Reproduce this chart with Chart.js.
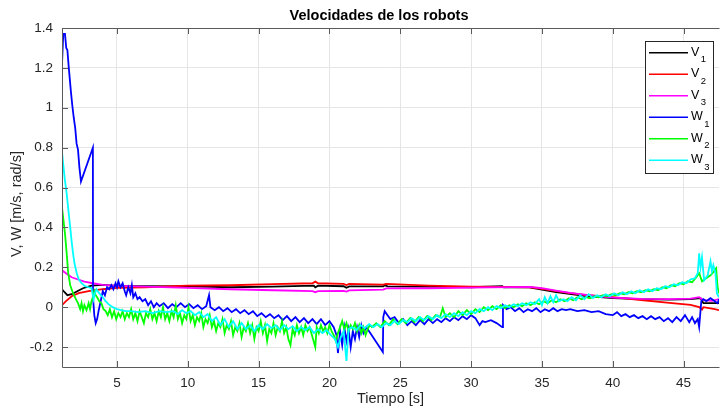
<!DOCTYPE html>
<html lang="es">
<head>
<meta charset="UTF-8">
<title>Velocidades de los robots</title>
<script src="https://cdn.jsdelivr.net/npm/chart.js@4.4.1/dist/chart.umd.min.js"></script>
<style>
  body { margin: 0; background: #fff; }
  canvas { display: block; }
</style>
</head>
<body>
<canvas id="chart" width="720" height="408"></canvas>
<script>
// series, [tiempo, valor]
const v1 = [[1.12,0.09],[1.3,0.075],[1.5,0.06],[1.8,0.065],[2.2,0.08],[2.6,0.095],[3.2,0.108],[4,0.112],[5,0.107],[7,0.106],[10,0.104],[13,0.1],[16,0.103],[18.9,0.108],[19,0.1],[19.2,0.108],[21,0.105],[21.2,0.097],[21.4,0.104],[23.8,0.104],[23.9,0.11],[24.1,0.104],[28,0.102],[30,0.1],[32.2,0.106],[32.3,0.1],[34,0.1],[36,0.075],[38,0.057],[40,0.046],[42,0.04],[44,0.038],[45.5,0.04],[46.2,0.045],[46.4,0.02],[47.5,0.02]];
const v2 = [[1.12,0.01],[1.4,0.03],[1.8,0.055],[2.3,0.07],[3,0.08],[4,0.09],[5,0.097],[7,0.1],[10,0.108],[13,0.11],[16,0.116],[18.8,0.12],[19,0.128],[19.2,0.12],[21,0.117],[21.2,0.111],[21.4,0.117],[23.8,0.113],[24,0.117],[27,0.108],[30,0.103],[34.2,0.1],[35,0.092],[36,0.08],[37,0.07],[38,0.062],[40,0.05],[42,0.036],[44,0.022],[45.5,0.012],[46.1,0.0],[46.3,-0.012],[46.4,0.0],[47.2,-0.01],[47.5,-0.015]];
const v3 = [[1.12,0.185],[1.4,0.17],[1.8,0.15],[2.2,0.14],[2.7,0.128],[3.3,0.12],[4,0.112],[5,0.107],[7,0.103],[10,0.097],[13,0.09],[16,0.085],[18.8,0.08],[19,0.075],[19.2,0.08],[21,0.082],[21.2,0.078],[21.4,0.084],[23.8,0.088],[24,0.094],[27,0.095],[30,0.098],[34.2,0.102],[35,0.095],[36,0.083],[37,0.072],[38,0.063],[39,0.055],[40,0.048],[42,0.042],[44,0.04],[45.5,0.043],[46.1,0.05],[46.4,0.035],[47,0.032],[47.5,0.04]];
const w1 = [[1.12,1.22],[1.21,1.37],[1.33,1.37],[1.42,1.3],[1.5,1.29],[1.6,1.2],[1.75,1.08],[1.85,1.01],[1.95,0.95],[2.05,0.9],[2.15,0.82],[2.25,0.79],[2.35,0.7],[2.46,0.63],[3.3,0.8],[3.31,0.05],[3.4,-0.04],[3.5,-0.08],[3.6,-0.06],[3.7,-0.02],[3.85,0.03],[4.0,0.08],[4.15,0.06],[4.3,0.1],[4.45,0.09],[4.6,0.11],[4.75,0.09],[4.9,0.12],[5.0,0.1],[5.1,0.13],[5.25,0.1],[5.4,0.12],[5.55,0.08],[5.65,0.06],[5.8,0.1],[5.95,0.07],[6.05,0.11],[6.15,0.05],[6.3,0.07],[6.45,0.04],[6.6,0.05],[6.8,0.03],[7.0,0.04],[7.2,0.01],[7.4,0.03],[7.6,0.0],[7.8,0.02],[8.0,0.005],[8.3,0.02],[8.6,-0.005],[8.9,0.015],[9.2,0.0],[9.5,0.02],[9.8,0.0],[10.1,0.015],[10.4,-0.005],[10.7,0.01],[11.0,-0.01],[11.3,0.005],[11.5,0.06],[11.6,0.0],[11.9,-0.015],[12.2,0.0],[12.5,-0.02],[12.8,-0.005],[13.1,-0.025],[13.4,-0.01],[13.7,-0.03],[14.0,-0.015],[14.3,-0.035],[14.6,-0.02],[14.9,-0.045],[15.2,-0.03],[15.5,-0.05],[15.8,-0.035],[16.1,-0.055],[16.4,-0.04],[16.7,-0.065],[17.0,-0.045],[17.3,-0.07],[17.6,-0.05],[17.9,-0.075],[18.2,-0.055],[18.5,-0.08],[18.8,-0.06],[19.1,-0.085],[19.4,-0.06],[19.7,-0.09],[20.0,-0.07],[20.3,-0.1],[20.5,-0.14],[20.6,-0.23],[20.75,-0.12],[20.9,-0.19],[21.05,-0.1],[21.2,-0.17],[21.35,-0.11],[21.5,-0.2],[21.65,-0.12],[21.8,-0.16],[21.95,-0.1],[22.1,-0.15],[22.25,-0.09],[22.4,-0.13],[22.6,-0.1],[23.77,-0.225],[23.8,-0.05],[23.9,-0.02],[24.1,-0.04],[24.3,-0.06],[24.6,-0.05],[24.9,-0.08],[25.2,-0.06],[25.5,-0.09],[25.8,-0.07],[26.1,-0.09],[26.4,-0.065],[26.7,-0.085],[27.0,-0.06],[27.3,-0.08],[27.6,-0.06],[27.9,-0.075],[28.2,-0.055],[28.5,-0.07],[28.8,-0.05],[29.1,-0.065],[29.4,-0.045],[29.7,-0.06],[30.0,-0.04],[30.3,-0.055],[30.6,-0.09],[30.8,-0.07],[31.0,-0.075],[31.4,-0.065],[31.8,-0.08],[32.2,-0.1],[32.25,0.01],[32.5,-0.01],[32.8,0.0],[33.1,-0.02],[33.4,-0.005],[33.7,-0.025],[34.0,-0.01],[34.3,-0.02],[34.6,-0.005],[34.9,-0.025],[35.2,-0.01],[35.5,-0.02],[35.8,-0.005],[36.1,-0.02],[36.4,-0.01],[36.7,-0.015],[37.0,-0.01],[37.5,-0.02],[38.0,-0.015],[38.5,-0.025],[39.0,-0.02],[39.5,-0.035],[40.0,-0.04],[40.3,-0.025],[40.6,-0.045],[40.9,-0.035],[41.2,-0.05],[41.5,-0.04],[41.8,-0.055],[42.1,-0.045],[42.4,-0.06],[42.7,-0.045],[43.0,-0.06],[43.3,-0.05],[43.6,-0.07],[43.9,-0.055],[44.2,-0.075],[44.5,-0.05],[44.8,-0.07],[45.1,-0.04],[45.4,-0.075],[45.6,-0.05],[45.8,-0.08],[46.0,-0.06],[46.1,-0.1],[46.25,0.03],[46.4,0.04],[46.6,0.03],[46.9,0.045],[47.2,0.03],[47.4,0.02],[47.5,0.04]];
const w2 = [[1.12,0.5],[1.2,0.45],[1.33,0.37],[1.45,0.27],[1.56,0.17],[1.7,0.11],[1.9,0.07],[2.1,0.04],[2.25,0.02],[2.4,-0.01],[2.5,0.02],[2.6,-0.02],[2.7,0.01],[2.85,-0.015],[3.0,0.02],[3.1,-0.01],[3.2,0.03],[3.3,0.05],[3.4,0.08],[3.5,0.06],[3.6,0.05],[3.75,0.03],[3.9,0.02],[4.05,-0.01],[4.2,-0.02],[4.35,-0.04],[4.5,-0.01],[4.65,-0.05],[4.8,-0.02],[4.95,-0.06],[5.1,-0.03],[5.25,-0.05],[5.4,-0.02],[5.55,-0.06],[5.7,-0.03],[5.85,-0.05],[6.0,-0.01],[6.15,-0.06],[6.3,-0.03],[6.45,-0.07],[6.6,-0.02],[6.75,-0.05],[6.9,-0.08],[7.05,-0.03],[7.2,-0.05],[7.35,-0.01],[7.5,-0.06],[7.65,-0.03],[7.8,-0.07],[7.95,-0.02],[8.1,-0.05],[8.25,0.0],[8.4,-0.06],[8.55,-0.03],[8.7,-0.07],[8.85,-0.02],[9.0,-0.05],[9.15,0.01],[9.3,-0.06],[9.45,-0.03],[9.6,-0.08],[9.75,-0.04],[9.9,-0.06],[10.05,0.0],[10.2,-0.07],[10.35,-0.04],[10.5,-0.09],[10.65,-0.05],[10.8,-0.07],[10.95,-0.03],[11.1,-0.1],[11.25,-0.06],[11.4,-0.08],[11.55,-0.04],[11.7,-0.1],[11.85,-0.07],[12.0,-0.12],[12.15,-0.08],[12.3,-0.1],[12.45,-0.06],[12.6,-0.13],[12.75,-0.09],[12.9,-0.11],[13.05,-0.07],[13.2,-0.14],[13.35,-0.1],[13.5,-0.12],[13.65,-0.08],[13.8,-0.15],[13.95,-0.1],[14.1,-0.12],[14.25,-0.08],[14.4,-0.13],[14.55,-0.09],[14.7,-0.16],[14.85,-0.1],[15.0,-0.12],[15.15,-0.07],[15.3,-0.13],[15.45,-0.09],[15.6,-0.17],[15.75,-0.11],[15.9,-0.13],[16.05,-0.08],[16.2,-0.14],[16.35,-0.1],[16.5,-0.12],[16.65,-0.07],[16.8,-0.13],[16.95,-0.1],[17.1,-0.16],[17.25,-0.19],[17.4,-0.11],[17.55,-0.14],[17.7,-0.09],[17.85,-0.13],[18.0,-0.1],[18.15,-0.14],[18.3,-0.09],[18.45,-0.12],[18.6,-0.1],[19.0,-0.2],[19.1,-0.1],[19.25,-0.13],[19.4,-0.09],[19.55,-0.12],[19.7,-0.1],[19.85,-0.13],[20.0,-0.09],[20.15,-0.12],[20.3,-0.14],[20.45,-0.17],[20.6,-0.13],[20.75,-0.1],[20.9,-0.07],[21.05,-0.11],[21.2,-0.08],[21.35,-0.12],[21.5,-0.09],[21.65,-0.11],[21.8,-0.08],[21.95,-0.12],[22.1,-0.09],[22.25,-0.13],[22.4,-0.1],[22.55,-0.14],[22.7,-0.11],[22.85,-0.09],[23.0,-0.1],[23.3,-0.08],[23.6,-0.1],[23.9,-0.07],[24.2,-0.09],[24.5,-0.06],[24.8,-0.085],[25.1,-0.06],[25.4,-0.08],[25.7,-0.055],[26.0,-0.075],[26.3,-0.05],[26.6,-0.07],[26.9,-0.045],[27.2,-0.065],[27.5,-0.04],[27.8,-0.05],[28.0,-0.005],[28.2,-0.05],[28.5,-0.03],[28.8,-0.05],[29.1,-0.02],[29.4,-0.04],[29.7,-0.015],[30.0,-0.035],[30.3,-0.01],[30.6,-0.025],[30.9,0.0],[31.2,-0.015],[31.5,0.005],[31.8,-0.01],[32.1,0.01],[32.4,-0.005],[32.7,0.01],[33.0,0.0],[33.3,0.015],[33.6,0.005],[33.9,0.02],[34.2,0.01],[34.5,0.025],[34.8,0.015],[35.1,0.03],[35.4,0.02],[35.7,0.035],[36.0,0.025],[36.3,0.04],[36.6,0.03],[36.9,0.045],[37.2,0.035],[37.5,0.05],[37.8,0.04],[38.1,0.05],[38.4,0.045],[38.7,0.055],[39.0,0.05],[39.3,0.06],[39.6,0.055],[39.9,0.065],[40.2,0.06],[40.5,0.07],[40.8,0.065],[41.1,0.075],[41.4,0.07],[41.7,0.08],[42.0,0.075],[42.3,0.085],[42.6,0.08],[42.9,0.09],[43.2,0.085],[43.5,0.1],[43.8,0.095],[44.1,0.11],[44.4,0.105],[44.7,0.12],[45.0,0.115],[45.3,0.13],[45.6,0.125],[45.9,0.15],[46.1,0.17],[46.3,0.13],[46.5,0.14],[46.7,0.15],[46.9,0.16],[47.1,0.175],[47.3,0.195],[47.4,0.1],[47.5,0.07]];
const w3 = [[1.12,0.78],[1.2,0.72],[1.32,0.64],[1.45,0.57],[1.58,0.48],[1.7,0.4],[1.8,0.33],[1.9,0.27],[2.0,0.22],[2.16,0.17],[2.3,0.14],[2.5,0.12],[2.75,0.105],[3.0,0.1],[3.2,0.095],[3.3,0.06],[3.35,0.04],[3.45,0.07],[3.55,0.09],[3.65,0.08],[3.8,0.065],[4.0,0.05],[4.2,0.03],[4.4,0.015],[4.7,0.0],[5.0,-0.01],[5.3,-0.015],[5.6,-0.02],[6.0,-0.02],[6.5,-0.025],[7.0,-0.02],[7.5,-0.03],[8.0,-0.02],[8.5,-0.025],[9.0,-0.02],[9.3,-0.035],[9.6,-0.015],[9.9,-0.03],[10.2,-0.02],[10.5,-0.04],[10.8,-0.025],[11.1,-0.05],[11.4,-0.035],[11.7,-0.07],[12.0,-0.05],[12.3,-0.09],[12.6,-0.06],[12.9,-0.1],[13.2,-0.07],[13.5,-0.11],[13.8,-0.08],[14.1,-0.11],[14.4,-0.09],[14.7,-0.12],[15.0,-0.09],[15.3,-0.11],[15.6,-0.085],[15.9,-0.105],[16.2,-0.09],[16.5,-0.115],[16.8,-0.09],[17.1,-0.11],[17.4,-0.095],[17.7,-0.12],[18.0,-0.1],[18.3,-0.115],[18.6,-0.1],[18.9,-0.13],[19.2,-0.11],[19.5,-0.13],[19.8,-0.115],[20.1,-0.14],[20.4,-0.16],[20.6,-0.2],[20.8,-0.15],[21.0,-0.12],[21.2,-0.27],[21.35,-0.11],[21.6,-0.1],[21.9,-0.115],[22.2,-0.09],[22.5,-0.105],[22.8,-0.085],[23.1,-0.1],[23.4,-0.085],[23.7,-0.1],[24.0,-0.08],[24.3,-0.09],[24.6,-0.07],[24.9,-0.085],[25.2,-0.065],[25.5,-0.075],[25.8,-0.055],[26.1,-0.07],[26.4,-0.05],[26.7,-0.065],[27.0,-0.045],[27.3,-0.06],[27.6,-0.04],[27.9,-0.055],[28.2,-0.035],[28.5,-0.05],[28.8,-0.03],[29.1,-0.045],[29.4,-0.025],[29.7,-0.04],[30.0,-0.02],[30.3,-0.03],[30.6,-0.01],[30.9,-0.02],[31.2,0.0],[31.5,-0.015],[31.8,0.005],[32.1,-0.005],[32.4,0.01],[32.7,0.0],[33.0,0.015],[33.3,0.005],[33.6,0.02],[33.9,0.01],[34.2,0.025],[34.5,0.015],[34.8,0.04],[35.0,0.01],[35.2,0.05],[35.4,0.02],[35.6,0.055],[35.8,0.025],[36.0,0.06],[36.2,0.03],[36.5,0.04],[36.8,0.03],[37.1,0.05],[37.4,0.035],[37.7,0.06],[38.0,0.04],[38.3,0.065],[38.6,0.045],[38.9,0.06],[39.2,0.05],[39.5,0.065],[39.8,0.055],[40.1,0.07],[40.4,0.06],[40.7,0.075],[41.0,0.065],[41.3,0.08],[41.6,0.07],[41.9,0.085],[42.2,0.075],[42.5,0.09],[42.8,0.08],[43.1,0.095],[43.4,0.09],[43.7,0.105],[44.0,0.1],[44.3,0.115],[44.6,0.11],[44.9,0.125],[45.2,0.12],[45.5,0.14],[45.8,0.145],[46.0,0.17],[46.1,0.27],[46.2,0.2],[46.3,0.25],[46.45,0.135],[46.7,0.16],[46.9,0.23],[47.0,0.18],[47.1,0.21],[47.25,0.17],[47.35,0.07],[47.5,0.05]];

const seriesNames = ['V1', 'V2', 'V3', 'W1', 'W2', 'W3'];
const seriesColors = ['#000000', '#ff0000', '#ff00ff', '#0000ff', '#00ff00', '#00ffff'];
const xTicks = [5, 10, 15, 20, 25, 30, 35, 40, 45];
const yTicks = [-0.2, 0, 0.2, 0.4, 0.6, 0.8, 1, 1.2, 1.4];

const FONT = '"Liberation Sans", Arial, Helvetica, sans-serif';
const AXIS = '#262626';

function toXY(arr) {
    return arr.map(p => ({ x: p[0], y: p[1] }));
}

const allData = [v1, v2, v3, w1, w2, w3];
const datasets = allData.map((d, i) => ({
    label: seriesNames[i],
    data: toXY(d),
    borderColor: seriesColors[i],
    borderWidth: 1.8,
    pointRadius: 0,
    tension: 0,
    fill: false,
    order: allData.length - i   // later series on top, as in matlab
}));

// axes box, inward ticks, titles and legend
const matlabLook = {
    id: 'matlabLook',
    afterDatasetsDraw(chart) {
        const ctx = chart.ctx;
        const a = chart.chartArea;
        const xs = chart.scales.x, ys = chart.scales.y;
        ctx.save();
        ctx.strokeStyle = '#5a5a5a';
        ctx.lineWidth = 1;
        ctx.beginPath();
        ctx.moveTo(a.left + 0.5, a.top + 0.5);
        ctx.lineTo(a.right + 0.5, a.top + 0.5);
        ctx.moveTo(a.left + 0.5, a.top);
        ctx.lineTo(a.left + 0.5, a.bottom + 0.5);
        ctx.lineTo(a.right + 0.5, a.bottom + 0.5);
        xTicks.forEach(v => {
            const px = Math.round(xs.getPixelForValue(v)) + 0.5;
            ctx.moveTo(px, a.bottom);
            ctx.lineTo(px, a.bottom - 6);
            ctx.moveTo(px, a.top);
            ctx.lineTo(px, a.top + 6);
        });
        yTicks.forEach(v => {
            const py = Math.round(ys.getPixelForValue(v)) + 0.5;
            ctx.moveTo(a.left, py);
            ctx.lineTo(a.left + 6, py);
        });
        ctx.stroke();

        // title and axis labels
        ctx.fillStyle = '#000';
        ctx.font = 'bold 14.5px ' + FONT;
        ctx.textAlign = 'center';
        ctx.textBaseline = 'middle';
        ctx.fillText('Velocidades de los robots', 379, 16);

        ctx.fillStyle = AXIS;
        ctx.font = '14.5px ' + FONT;
        ctx.fillText('Tiempo [s]', (a.left + a.right) / 2, 399);
        ctx.save();
        ctx.translate(17, 204);
        ctx.rotate(-Math.PI / 2);
        ctx.fillText('V, W [m/s, rad/s]', 0, 0);
        ctx.restore();

        // legend
        const lx = 645, ly = 41, lw = 68, lh = 132;
        ctx.fillStyle = '#fff';
        ctx.fillRect(lx, ly, lw, lh);
        ctx.strokeStyle = '#262626';
        ctx.lineWidth = 1;
        ctx.strokeRect(lx + 0.5, ly + 0.5, lw, lh);
        seriesNames.forEach((name, i) => {
            const y = 52.7 + i * 21.5;
            ctx.strokeStyle = seriesColors[i];
            ctx.lineWidth = 1.5;
            ctx.beginPath();
            ctx.moveTo(649, y);
            ctx.lineTo(688, y);
            ctx.stroke();
            ctx.fillStyle = '#000';
            ctx.textAlign = 'left';
            ctx.textBaseline = 'middle';
            ctx.font = '12.5px ' + FONT;
            const letter = name[0];
            ctx.fillText(letter, 691, y - 0.5);
            const w = ctx.measureText(letter).width;
            ctx.font = '9.5px ' + FONT;
            ctx.fillText(name.slice(1), 691 + w + 1.5, y + 7);
        });
        ctx.restore();
    }
};

new Chart(document.getElementById('chart'), {
    type: 'line',
    data: { datasets: datasets },
    plugins: [matlabLook],
    options: {
        responsive: false,
        animation: false,
        layout: { padding: { top: 28, right: 1, left: 0, bottom: 0 } },
        plugins: {
            legend: { display: false },
            title: { display: false },
            tooltip: { enabled: false }
        },
        scales: {
            x: {
                type: 'linear',
                min: 1.12,
                max: 47.5,
                afterBuildTicks: s => { s.ticks = xTicks.map(v => ({ value: v })); },
                afterFit: s => { s.height = 41; },
                grid: { color: '#e5e5e5', drawTicks: false },
                border: { display: false },
                ticks: {
                    color: AXIS, padding: 8, maxRotation: 0,
                    font: { family: FONT, size: 13.5 },
                    callback: v => String(v)
                }
            },
            y: {
                min: -0.3,
                max: 1.4,
                afterBuildTicks: s => { s.ticks = yTicks.map(v => ({ value: v })); },
                afterFit: s => { s.width = 62; },
                grid: { color: '#e5e5e5', drawTicks: false },
                border: { display: false },
                ticks: {
                    color: AXIS, padding: 9,
                    font: { family: FONT, size: 13.5 },
                    callback: v => String(Number(v.toFixed(1)))
                }
            }
        }
    }
});
</script>
</body>
</html>
